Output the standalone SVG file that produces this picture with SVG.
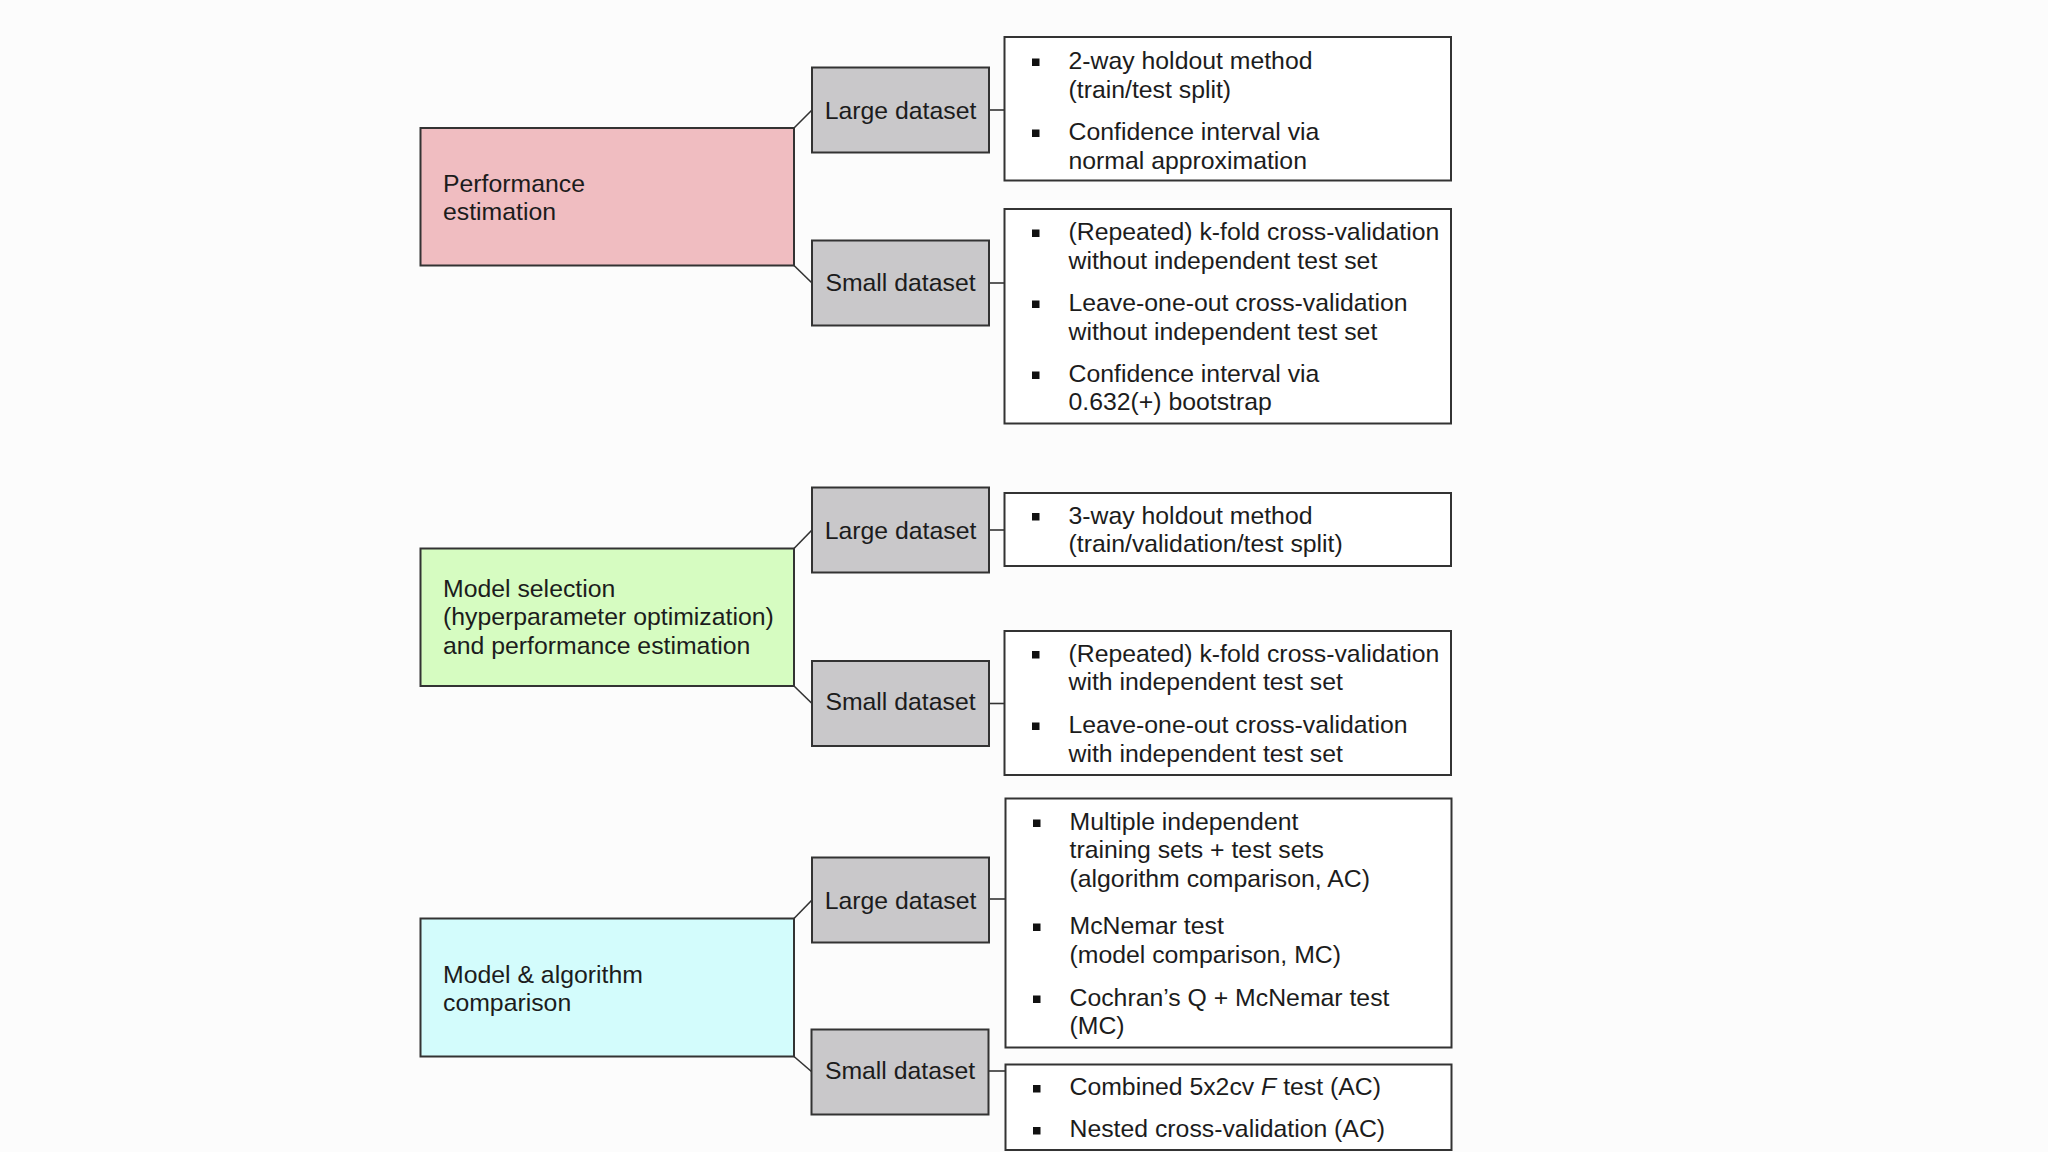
<svg xmlns="http://www.w3.org/2000/svg" width="2048" height="1152" viewBox="0 0 2048 1152">
<style>
  text { font-family: "Liberation Sans", Arial, sans-serif; font-size: 24.8px; fill: #1c1c1c; }
  .box { stroke: #333; stroke-width: 2; }
  .cat-pe { fill: #f0bdc1; }
  .cat-ms { fill: #d6fcc1; }
  .cat-mc { fill: #d3fcfc; }
  .ds { fill: #c9c8ca; }
  .list { fill: #ffffff; }
  .mid { text-anchor: middle; }
  .bul { fill: #111; }
  .conn line { stroke: #333; stroke-width: 1.6; }
</style>
<rect x="0" y="0" width="2048" height="1152" fill="#fcfcfc"/>

<g class="conn" id="connectors">
  <line x1="794" y1="128" x2="812" y2="110"/>
  <line x1="794" y1="265.5" x2="812" y2="283"/>
  <line x1="989" y1="110" x2="1004.5" y2="110"/>
  <line x1="989" y1="283" x2="1004.5" y2="283"/>
  <line x1="794" y1="548.5" x2="812" y2="530"/>
  <line x1="794" y1="686" x2="812" y2="703.5"/>
  <line x1="989" y1="530" x2="1004.5" y2="530"/>
  <line x1="989" y1="703.5" x2="1004.5" y2="703.5"/>
  <line x1="794" y1="918.5" x2="812" y2="900"/>
  <line x1="794" y1="1056.5" x2="812" y2="1072"/>
  <line x1="989" y1="899" x2="1005.5" y2="899"/>
  <line x1="989" y1="1071" x2="1005.5" y2="1071"/>
</g>

<g id="performance-estimation">
  <rect class="box cat-pe" x="420.5" y="128" width="373.5" height="137.5"/>
  <text x="443" y="191.7">Performance</text>
  <text x="443" y="219.5">estimation</text>
</g>
<g id="pe-large">
  <rect class="box ds" x="812" y="67.5" width="177" height="85"/>
  <text class="mid" x="900.5" y="118.5">Large dataset</text>
</g>
<g id="pe-small">
  <rect class="box ds" x="812" y="240.5" width="177" height="85"/>
  <text class="mid" x="900.5" y="290.5">Small dataset</text>
</g>
<g id="pe-large-methods">
  <rect class="box list" x="1004.5" y="37" width="446.5" height="143.5"/>
  <rect class="bul" x="1032" y="58.5" width="7.5" height="7.5"/>
  <text x="1068.5" y="69.3">2-way holdout method</text>
  <text x="1068.5" y="97.5">(train/test split)</text>
  <rect class="bul" x="1032" y="129.5" width="7.5" height="7.5"/>
  <text x="1068.5" y="140.3">Confidence interval via</text>
  <text x="1068.5" y="168.5">normal approximation</text>
</g>
<g id="pe-small-methods">
  <rect class="box list" x="1004.5" y="209" width="446.5" height="214.5"/>
  <rect class="bul" x="1032" y="229.5" width="7.5" height="7.5"/>
  <text x="1068.5" y="240.3">(Repeated) k-fold cross-validation</text>
  <text x="1068.5" y="268.5">without independent test set</text>
  <rect class="bul" x="1032" y="300.5" width="7.5" height="7.5"/>
  <text x="1068.5" y="311.3">Leave-one-out cross-validation</text>
  <text x="1068.5" y="339.5">without independent test set</text>
  <rect class="bul" x="1032" y="371.5" width="7.5" height="7.5"/>
  <text x="1068.5" y="382">Confidence interval via</text>
  <text x="1068.5" y="410.2">0.632(+) bootstrap</text>
</g>

<g id="model-selection">
  <rect class="box cat-ms" x="420.5" y="548.5" width="373.5" height="137.5"/>
  <text x="443" y="596.5">Model selection</text>
  <text x="443" y="625">(hyperparameter optimization)</text>
  <text x="443" y="653.5">and performance estimation</text>
</g>
<g id="ms-large">
  <rect class="box ds" x="812" y="487.5" width="177" height="85"/>
  <text class="mid" x="900.5" y="538.5">Large dataset</text>
</g>
<g id="ms-small">
  <rect class="box ds" x="812" y="661" width="177" height="85"/>
  <text class="mid" x="900.5" y="710">Small dataset</text>
</g>
<g id="ms-large-methods">
  <rect class="box list" x="1004.5" y="493" width="446.5" height="73"/>
  <rect class="bul" x="1032" y="513" width="7.5" height="7.5"/>
  <text x="1068.5" y="523.5">3-way holdout method</text>
  <text x="1068.5" y="551.8">(train/validation/test split)</text>
</g>
<g id="ms-small-methods">
  <rect class="box list" x="1004.5" y="631" width="446.5" height="144"/>
  <rect class="bul" x="1032" y="651" width="7.5" height="7.5"/>
  <text x="1068.5" y="661.7">(Repeated) k-fold cross-validation</text>
  <text x="1068.5" y="690">with independent test set</text>
  <rect class="bul" x="1032" y="722.5" width="7.5" height="7.5"/>
  <text x="1068.5" y="733.3">Leave-one-out cross-validation</text>
  <text x="1068.5" y="761.5">with independent test set</text>
</g>

<g id="model-algorithm-comparison">
  <rect class="box cat-mc" x="420.5" y="918.5" width="373.5" height="138"/>
  <text x="443" y="982.7">Model &amp; algorithm</text>
  <text x="443" y="1010.7">comparison</text>
</g>
<g id="mc-large">
  <rect class="box ds" x="812" y="857.5" width="177" height="85"/>
  <text class="mid" x="900.5" y="908.5">Large dataset</text>
</g>
<g id="mc-small">
  <rect class="box ds" x="811.5" y="1029.5" width="177" height="85"/>
  <text class="mid" x="900" y="1078.5">Small dataset</text>
</g>
<g id="mc-large-methods">
  <rect class="box list" x="1005.5" y="798.5" width="446" height="249"/>
  <rect class="bul" x="1033" y="819.5" width="7.5" height="7.5"/>
  <text x="1069.5" y="830">Multiple independent</text>
  <text x="1069.5" y="858.3">training sets + test sets</text>
  <text x="1069.5" y="886.5">(algorithm comparison, AC)</text>
  <rect class="bul" x="1033" y="923.5" width="7.5" height="7.5"/>
  <text x="1069.5" y="934">McNemar test</text>
  <text x="1069.5" y="962.5">(model comparison, MC)</text>
  <rect class="bul" x="1033" y="995.5" width="7.5" height="7.5"/>
  <text x="1069.5" y="1005.8">Cochran’s Q + McNemar test</text>
  <text x="1069.5" y="1034">(MC)</text>
</g>
<g id="mc-small-methods">
  <rect class="box list" x="1005.5" y="1064.5" width="446" height="85.5"/>
  <rect class="bul" x="1033" y="1085" width="7.5" height="7.5"/>
  <text x="1069.5" y="1095">Combined 5x2cv <tspan font-style="italic">F</tspan> test (AC)</text>
  <rect class="bul" x="1033" y="1127" width="7.5" height="7.5"/>
  <text x="1069.5" y="1137.3">Nested cross-validation (AC)</text>
</g>
</svg>
